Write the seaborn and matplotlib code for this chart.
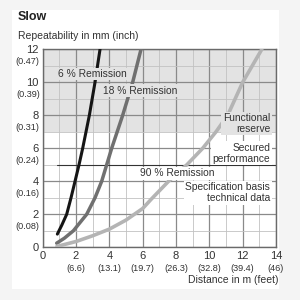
import numpy as np
import matplotlib
matplotlib.use('Agg')
from matplotlib import pyplot as plt
from matplotlib.patches import Rectangle
import pandas as pd
import seaborn as sns

# curve points (distance in m, repeatability in mm)
x_6 = [0.88, 1.15, 1.44, 1.7, 1.94, 2.18, 2.4, 2.8, 3.14, 3.44]
y_6 = [0.8, 1.35, 2.0, 3.0, 4.0, 5.0, 6.0, 8.0, 10.0, 12.0]
x_18 = [0.84, 1.3, 1.84, 2.64, 3.14, 3.54, 3.84, 4.14, 4.8, 5.4, 5.9]
y_18 = [0.25, 0.55, 1.0, 2.0, 3.0, 4.0, 5.0, 6.0, 8.0, 10.0, 12.0]
x_90 = [0.85, 2.0, 3.0, 4.0, 5.0, 6.0, 6.5, 7.55, 8.65, 9.6, 10.4, 11.1, 12.0, 13.15]
y_90 = [0.05, 0.35, 0.7, 1.1, 1.65, 2.35, 2.9, 4.0, 5.0, 6.0, 7.0, 8.0, 10.0, 12.0]

x_ticks = [0, 2, 4, 6, 8, 10, 12, 14]
x_feet = ["", "(6.6)", "(13.1)", "(19.7)", "(26.3)", "(32.8)", "(39.4)", "(46)"]
y_ticks = [0, 2, 4, 6, 8, 10, 12]
y_inch = ["", "(0.08)", "(0.16)", "(0.24)", "(0.31)", "(0.39)", "(0.47)"]

series = ["6 % Remission", "18 % Remission", "90 % Remission"]
colors = ["#151515", "#707070", "#b4b4b4"]
widths = [2.2, 2.5, 2.6]

df = pd.concat([
    pd.DataFrame({"dist": x_6, "rep": y_6, "s": series[0]}),
    pd.DataFrame({"dist": x_18, "rep": y_18, "s": series[1]}),
    pd.DataFrame({"dist": x_90, "rep": y_90, "s": series[2]}),
])

sns.set_style("white")
plt.rcParams['font.family'] = ['Liberation Sans', 'DejaVu Sans']

fig = plt.figure(figsize=(3, 3), dpi=100)
fig.patch.set_facecolor('#f4f4f4')
fig.patches.append(Rectangle((12 / 300, 11 / 300), 267 / 300, 279 / 300,
                             transform=fig.transFigure, facecolor='white',
                             edgecolor='none', zorder=-1))
ax = fig.add_axes([0.1423, 0.1757, 0.7777, 0.66])
ax.set_zorder(1)
ax.set_facecolor('white')

ax.axhspan(7, 12, color='#e3e3e3', zorder=0, lw=0)

for name, c, lw in zip(series, colors, widths):
    sns.lineplot(data=df[df.s == name], x="dist", y="rep", color=c, lw=lw,
                 ax=ax, sort=False, estimator=None, zorder=3)

ax.plot([0.85, 14], [5, 5], color='#333333', lw=0.8, zorder=2.5)

ax.set_xlim(0, 14)
ax.set_ylim(0, 12)
ax.set_xticks(x_ticks)
ax.set_xticklabels([str(v) for v in x_ticks], fontsize=8, color='#333333')
ax.set_yticks(y_ticks)
ax.set_yticklabels([str(v) for v in y_ticks], fontsize=8, color='#333333')
ax.set_xticks(range(0, 15), minor=True)
ax.set_yticks(range(0, 13), minor=True)
ax.tick_params(which='both', length=0)
ax.tick_params(axis='y', pad=3)
ax.tick_params(axis='x', pad=3)
ax.set_axisbelow(True)
ax.grid(which='major', color='#8a8a8a', lw=0.9)
ax.grid(which='minor', color='#c2c2c2', lw=0.6)
for sp in ax.spines.values():
    sp.set_color('#6a6a6a')
    sp.set_linewidth(1.0)
ax.set_xlabel("")
ax.set_ylabel("")
if ax.get_legend():
    ax.get_legend().remove()

for v, lab in zip(x_ticks, x_feet):
    if lab:
        ax.annotate(lab, xy=(v, 0), xycoords='data', xytext=(0, -21),
                    textcoords='offset pixels', ha='center', va='center',
                    fontsize=6.6, color='#333333')
for v, lab in zip(y_ticks, y_inch):
    if lab:
        ax.annotate(lab, xy=(0, v), xycoords='data', xytext=(-3, -12),
                    textcoords='offset pixels', ha='right', va='center',
                    fontsize=6.6, color='#333333')

# labels on the curves and zones
kw = dict(fontsize=7.4, color='#333333', zorder=5)
ax.text(3.0, 10.5, "6 % Remission", ha='center', va='center',
        bbox=dict(facecolor='#e3e3e3', edgecolor='none', pad=1), **kw)
ax.text(5.85, 9.5, "18 % Remission", ha='center', va='center',
        bbox=dict(facecolor='#e3e3e3', edgecolor='none', pad=1), **kw)
ax.text(8.1, 4.48, "90 % Remission", ha='center', va='center',
        bbox=dict(facecolor='white', edgecolor='none', pad=1), **kw)
ax.text(13.65, 7.5, "Functional\nreserve", ha='right', va='center',
        linespacing=1.1, bbox=dict(facecolor='#e3e3e3', edgecolor='none', pad=1), **kw)
ax.text(13.65, 5.7, "Secured\nperformance", ha='right', va='center',
        linespacing=1.1, bbox=dict(facecolor='white', edgecolor='none', pad=1), **kw)
ax.text(13.65, 3.3, "Specification basis\ntechnical data", ha='right', va='center',
        linespacing=1.1, bbox=dict(facecolor='white', edgecolor='none', pad=1), **kw)

fig.text(18 / 300, 1 - 17 / 300, "Slow", fontsize=9, fontweight='bold',
         ha='left', va='center', color='#222222')
fig.text(18 / 300, 1 - 36 / 300, "Repeatability in mm (inch)", fontsize=7.5,
         ha='left', va='center', color='#333333')
fig.text(279 / 300, 1 - 280 / 300, "Distance in m (feet)", fontsize=7.5,
         ha='right', va='center', color='#333333')

plt.savefig("out.png", dpi=100)
plt.close()
